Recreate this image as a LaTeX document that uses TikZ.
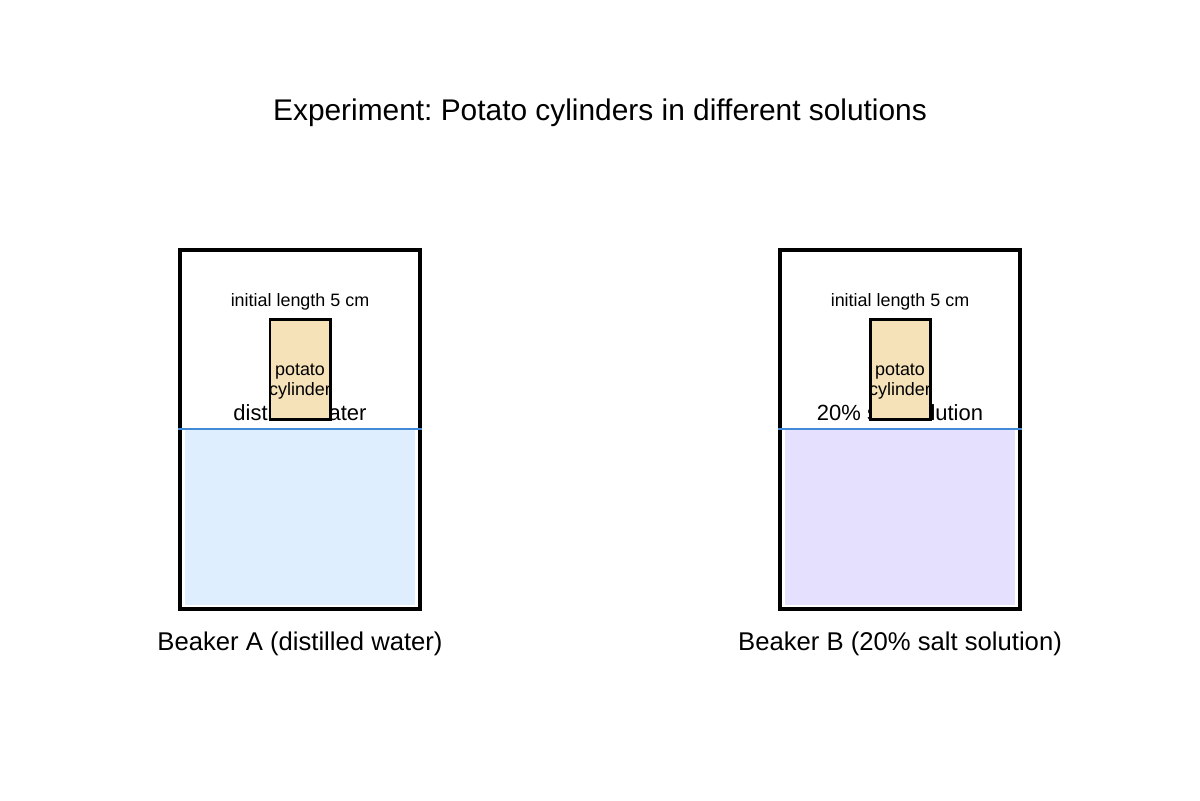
\documentclass[tikz,border=0pt]{standalone}
\usepackage{fontspec}
\setmainfont{Liberation Sans}
\usetikzlibrary{shapes,arrows}

\definecolor{waterfill}{RGB}{222,238,255}
\definecolor{saltfill}{RGB}{230,224,255}
\definecolor{surfaceblue}{RGB}{66,138,216}
\definecolor{potatofill}{RGB}{245,226,184}

\frenchspacing

\begin{document}
\begin{tikzpicture}[
    thick
]

% =========================
% Styles
% =========================
\tikzstyle{beaker} = [
    rectangle, draw,
    line width=2.3pt,
    minimum width=4.8cm,
    minimum height=7.18cm,
    inner sep=0pt
]

\tikzstyle{liquid} = [
    rectangle,
    minimum width=4.6cm,
    minimum height=3.5cm,
    inner sep=0pt
]

\tikzstyle{potato} = [
    rectangle, draw,
    fill=potatofill,
    line width=1.7pt,
    minimum width=1.2cm,
    minimum height=2cm,
    inner sep=0pt
]

\tikzstyle{surface} = [draw=surfaceblue, line width=1pt]

\useasboundingbox (0,0) rectangle (24,16);

% =========================
% Title
% =========================
\node[font=\fontsize{17}{20}\selectfont] (title) at (12,13.74)
    {Experiment: Potato cylinders in different solutions};

% =========================
% Beaker A
% =========================
\node[beaker] (beakerA) at (6,7.41) {};
\node[liquid, fill=waterfill] (liquidA) at (6,5.65) {};
\path[surface] (beakerA.west |- liquidA.north) -- (beakerA.east |- liquidA.north);

\node[font=\fontsize{12.5}{15}\selectfont] (solA) at (6,7.75) {distilled water};
\node[font=\fontsize{10.2}{12}\selectfont] (lenA) at (6,9.97) {initial length 5 cm};
\node[potato] (potatoA) at (6,8.6) {};
\node[font=\fontsize{10.2}{11.4}\selectfont, align=center] (potA) at (6,8.36)
    {potato\\cylinder};

\node[font=\fontsize{14.6}{17}\selectfont] (labelA) at (6,3.12)
    {Beaker A (distilled water)};

% =========================
% Beaker B
% =========================
\node[beaker] (beakerB) at (18,7.41) {};
\node[liquid, fill=saltfill] (liquidB) at (18,5.65) {};
\path[surface] (beakerB.west |- liquidB.north) -- (beakerB.east |- liquidB.north);

\node[font=\fontsize{12.5}{15}\selectfont] (solB) at (18,7.75) {20\% salt solution};
\node[font=\fontsize{10.2}{12}\selectfont] (lenB) at (18,9.97) {initial length 5 cm};
\node[potato] (potatoB) at (18,8.6) {};
\node[font=\fontsize{10.2}{11.4}\selectfont, align=center] (potB) at (18,8.36)
    {potato\\cylinder};

\node[font=\fontsize{14.6}{17}\selectfont] (labelB) at (18,3.12)
    {Beaker B (20\% salt solution)};

\end{tikzpicture}
\end{document}
